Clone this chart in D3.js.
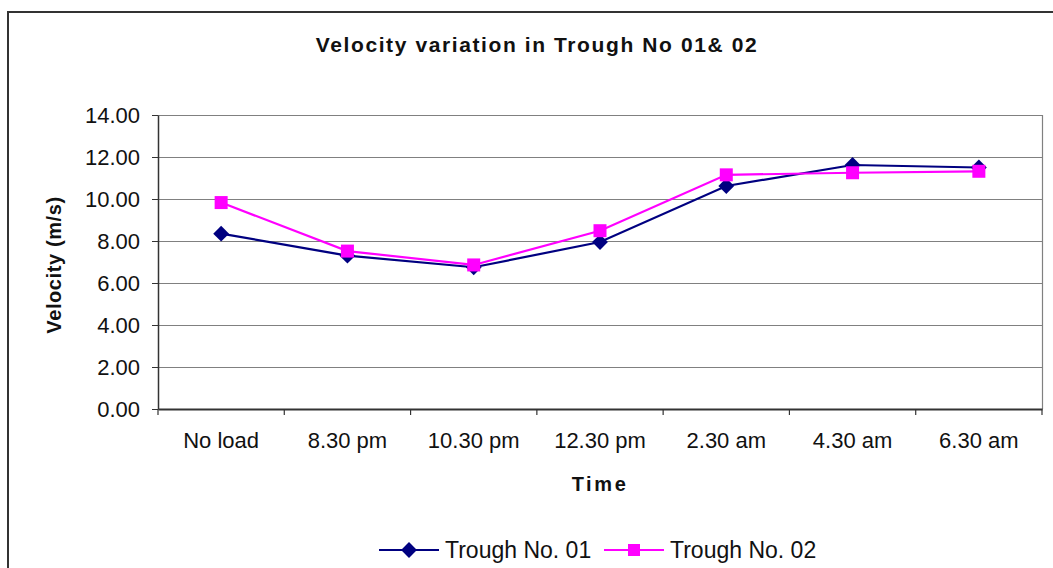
<!DOCTYPE html>
<html><head><meta charset="utf-8">
<script src="https://cdn.jsdelivr.net/npm/d3@7"></script>
<style>body{margin:0;background:#fff}svg{display:block}</style>
</head><body>
<script>
const categories = ["No load","8.30 pm","10.30 pm","12.30 pm","2.30 am","4.30 am","6.30 am"];
const trough01 = [8.35, 7.30, 6.75, 7.95, 10.62, 11.62, 11.50];
const trough02 = [9.83, 7.52, 6.86, 8.49, 11.15, 11.25, 11.32];
const yTicks = [0,2,4,6,8,10,12,14];
const seriesNames = ["Trough No. 01","Trough No. 02"];

const W=1053,H=568;
const FF="Liberation Sans, Arial, sans-serif";
const svg=d3.select("body").append("svg").attr("width",W).attr("height",H);
svg.append("rect").attr("x",8).attr("y",12).attr("width",1046).attr("height",570)
  .attr("fill","#fff").attr("stroke","#333").attr("stroke-width",2);

const L=158,R=1042,T=115,B=409;
const x=d3.scaleBand().domain(categories).range([L,R]);
const y=d3.scaleLinear().domain([0,14]).range([B,T]);

// gridlines
svg.append("g").selectAll("line").data(yTicks.filter(d=>d>0)).join("line")
  .attr("x1",L).attr("x2",R).attr("y1",d=>y(d)+0.5).attr("y2",d=>y(d)+0.5)
  .attr("stroke","#808080").attr("stroke-width",1.2);
// right border
svg.append("line").attr("x1",R+0.5).attr("x2",R+0.5).attr("y1",T).attr("y2",B).attr("stroke","#808080").attr("stroke-width",1.2);

// y axis
const ya=svg.append("g").attr("transform",`translate(${L},0)`)
  .call(d3.axisLeft(y).tickValues(yTicks).tickFormat(d3.format(".2f")).tickSize(6).tickSizeOuter(0));
ya.select(".domain").attr("stroke","#333").attr("stroke-width",1.5);
ya.selectAll(".tick line").attr("stroke","#333");
ya.selectAll("text").attr("font-family",FF).attr("font-size","22px").attr("fill","#111").attr("x",-18);

// x axis
const xa=svg.append("g").attr("transform",`translate(0,${B})`)
  .call(d3.axisBottom(x).tickSize(0).tickSizeOuter(0));
xa.select(".domain").attr("stroke","#333").attr("stroke-width",2);
xa.selectAll("text").attr("font-family",FF).attr("font-size","22px").attr("fill","#111").attr("dy","0").attr("y",39);
// x boundary ticks
const bounds=categories.map(c=>x(c)).concat([R]);
svg.append("g").selectAll("line").data(bounds).join("line")
  .attr("x1",d=>d).attr("x2",d=>d).attr("y1",B).attr("y2",B+6).attr("stroke","#333").attr("stroke-width",1.2);

const cx=c=>x(c)+x.bandwidth()/2;
const line=d3.line().x((d,i)=>cx(categories[i])).y(d=>y(d));
svg.append("path").datum(trough01).attr("d",line).attr("fill","none").attr("stroke","#000080").attr("stroke-width",2.2);
svg.append("path").datum(trough02).attr("d",line).attr("fill","none").attr("stroke","#FF00FF").attr("stroke-width",2.2);
const diamond=d3.symbol().type(d3.symbolDiamond2).size(160);
svg.append("g").selectAll("path").data(trough01).join("path")
  .attr("d",diamond).attr("transform",(d,i)=>`translate(${cx(categories[i])},${y(d)})`).attr("fill","#000080");
svg.append("g").selectAll("rect").data(trough02).join("rect")
  .attr("x",(d,i)=>cx(categories[i])-6.5).attr("y",d=>y(d)-6.5).attr("width",13).attr("height",13).attr("fill","#FF00FF");

// title & labels
svg.append("text").attr("x",537).attr("y",52).attr("text-anchor","middle")
  .attr("font-family",FF).attr("font-weight","bold").attr("font-size","21px").attr("letter-spacing","1.6px").attr("fill","#111")
  .text("Velocity variation in Trough No 01& 02");
svg.append("text").attr("transform","translate(61,265) rotate(-90)").attr("text-anchor","middle")
  .attr("font-family",FF).attr("font-weight","bold").attr("font-size","20px").attr("letter-spacing","0.6px").attr("fill","#111")
  .text("Velocity (m/s)");
svg.append("text").attr("x",600).attr("y",491).attr("text-anchor","middle")
  .attr("font-family",FF).attr("font-weight","bold").attr("font-size","20px").attr("letter-spacing","2.6px").attr("fill","#111")
  .text("Time");

// legend
const lg=svg.append("g");
const items=[{name:seriesNames[0],color:"#000080",x0:379,type:"d"},{name:seriesNames[1],color:"#FF00FF",x0:604,type:"s"}];
items.forEach(it=>{
  const ly=550;
  lg.append("line").attr("x1",it.x0).attr("x2",it.x0+60).attr("y1",ly).attr("y2",ly).attr("stroke",it.color).attr("stroke-width",2.2);
  if(it.type==="d") lg.append("path").attr("d",diamond).attr("transform",`translate(${it.x0+30},${ly})`).attr("fill",it.color);
  else lg.append("rect").attr("x",it.x0+24).attr("y",ly-6).attr("width",12).attr("height",12).attr("fill",it.color);
  lg.append("text").attr("x",it.x0+66).attr("y",ly+8).attr("font-family",FF).attr("font-size","23px").attr("fill","#111").text(it.name);
});
</script>
</body></html>
